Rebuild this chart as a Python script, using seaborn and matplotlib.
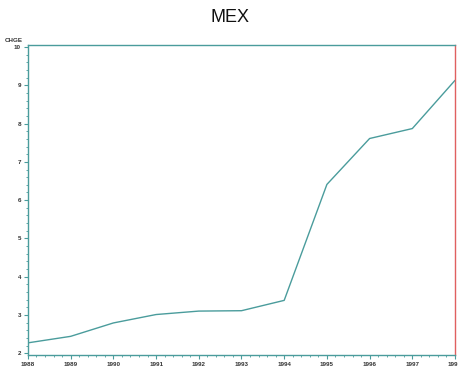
import matplotlib
matplotlib.use("Agg")
import matplotlib.pyplot as plt
from matplotlib.ticker import MultipleLocator
import seaborn as sns
import pandas as pd

years = [1988, 1989, 1990, 1991, 1992, 1993, 1994, 1995, 1996, 1997, 1998]
chge = [2.27, 2.44, 2.79, 3.01, 3.10, 3.11, 3.38, 6.41, 7.61, 7.87, 9.13]
y_ticks = [2, 3, 4, 5, 6, 7, 8, 9, 10]
title = "MEX"
y_label = "CHGE"

sns.set_theme(style="white")
plt.rcParams["font.family"] = ["Liberation Sans", "DejaVu Sans"]

teal = "#4a9c9c"
red = "#e06060"

df = pd.DataFrame({"year": years, "chge": chge})

fig = plt.figure(figsize=(4.58, 3.73), dpi=100)
ax = fig.add_axes([0.061, 0.048, 0.9325, 0.831])

sns.lineplot(data=df, x="year", y="chge", ax=ax, color=teal, linewidth=1.0)

ax.set_xlim(1988, 1998)
ax.set_ylim(1.95, 10.05)
ax.set_xticks(years)
ax.set_xticklabels([str(y) for y in years])
ax.set_yticks(y_ticks)
ax.set_yticklabels([str(v) for v in y_ticks])
ax.xaxis.set_minor_locator(MultipleLocator(0.2))
ax.yaxis.set_minor_locator(MultipleLocator(0.2))

ax.tick_params(axis="both", which="major", direction="out", length=3,
               width=0.8, color=teal, labelsize=4.5, labelcolor="#333333",
               pad=2)
ax.tick_params(axis="both", which="minor", direction="out", length=1.5,
               width=0.6, color=teal)
ax.tick_params(axis="x", which="both", bottom=True)
ax.tick_params(axis="y", which="both", left=True)
for lab in ax.get_xticklabels() + ax.get_yticklabels():
    lab.set_fontweight("bold")

for side in ["left", "top", "bottom"]:
    ax.spines[side].set_color(teal)
    ax.spines[side].set_linewidth(1.0)
ax.spines["right"].set_color(red)
ax.spines["right"].set_linewidth(1.0)

ax.set_xlabel("")
ax.set_ylabel("")
fig.text(0.011, 0.885, y_label, fontsize=4.5, fontweight="bold",
         color="#333333", ha="left", va="bottom")
fig.text(0.502, 0.952, title, fontsize=13, color="#111111",
         ha="center", va="center")

fig.savefig("out.png", dpi=100)
